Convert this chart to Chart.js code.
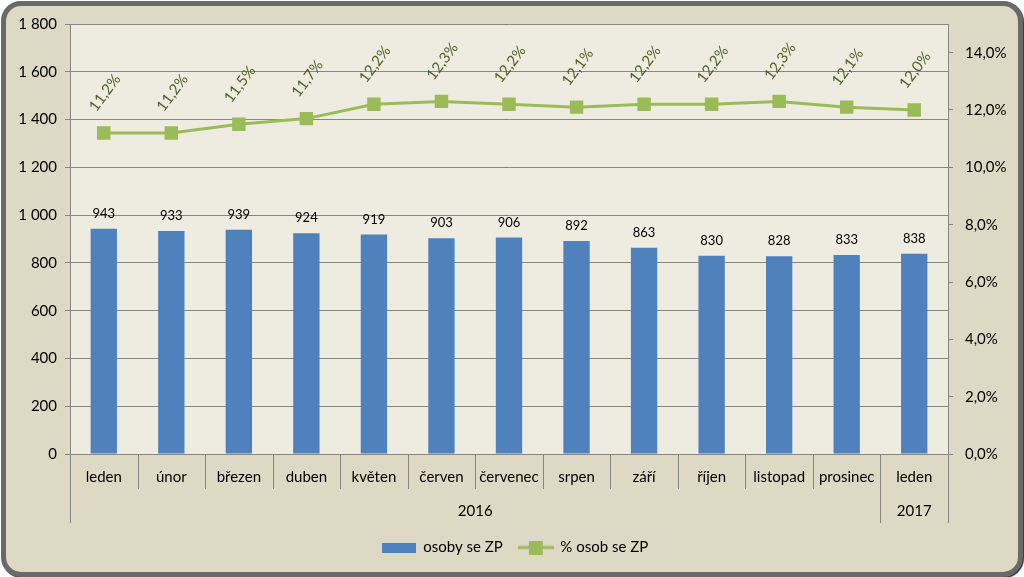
<!DOCTYPE html>
<html lang="cs">
<head>
<meta charset="UTF-8">
<title>Osoby se ZP</title>
<script src="https://cdn.jsdelivr.net/npm/chart.js"></script>
<style>
    body {
        margin: 0;
        width: 1024px;
        height: 577px;
        overflow: hidden;
        position: relative;
        background: #fff;
    }
    .frame {
        position: absolute;
        left: 1px;
        top: 1px;
        width: 1012px;
        height: 566px;
        border: 5px solid #6a6a6a;
        border-radius: 20px;
        background: #ddd9c4;
        box-shadow: 1px 1px 1px #2a2a2a;
    }
    #chart {
        position: absolute;
        left: 0;
        top: 0;
    }
</style>
</head>
<body>
<div class="frame"></div>
<canvas id="chart" width="1024" height="577"></canvas>
<script>
const months = ['leden', 'únor', 'březen', 'duben', 'květen', 'červen', 'červenec', 'srpen', 'září', 'říjen', 'listopad', 'prosinec', 'leden'];
const yearLabels = ['2016', '2017'];
const yearSpans = [12, 1];
const persons = [943, 933, 939, 924, 919, 903, 906, 892, 863, 830, 828, 833, 838];
const share = [11.2, 11.2, 11.5, 11.7, 12.2, 12.3, 12.2, 12.1, 12.2, 12.2, 12.3, 12.1, 12.0];

const FONT = 'Lato, "DejaVu Sans", sans-serif';
const GRID = '#868686';
const BLUE = '#4f81bd';
const GREEN = '#9bbb59';

function fmtThousands(v) {
    return String(v).replace(/\B(?=(\d{3})+(?!\d))/g, ' ');
}
function fmtPct(v) {
    return v.toFixed(1).replace('.', ',') + '%';
}

// legend swatches
function barSwatch() {
    const c = document.createElement('canvas');
    c.width = 34; c.height = 10;
    const g = c.getContext('2d');
    g.fillStyle = BLUE;
    g.fillRect(0, 0, 34, 10);
    return c;
}
function lineSwatch() {
    const c = document.createElement('canvas');
    c.width = 36; c.height = 14;
    const g = c.getContext('2d');
    g.fillStyle = GREEN;
    g.fillRect(0, 5.5, 36, 3);
    g.fillRect(11, 0, 14, 14);
    return c;
}

const plotBg = {
    id: 'plotBg',
    beforeDraw(chart) {
        const a = chart.chartArea, ctx = chart.ctx;
        ctx.save();
        ctx.fillStyle = '#eeece1';
        ctx.fillRect(a.left, a.top, a.right - a.left, a.bottom - a.top);
        ctx.restore();
    }
};

const extras = {
    id: 'extras',
    afterDraw(chart) {
        const ctx = chart.ctx, x = chart.scales.x, a = chart.chartArea;
        const w = x.getPixelForValue(1) - x.getPixelForValue(0);
        const start = x.getPixelForValue(0) - w / 2;
        ctx.save();
        ctx.strokeStyle = GRID;
        ctx.lineWidth = 1;
        // group boundaries
        const bounds = [0];
        yearSpans.forEach(s => bounds.push(bounds[bounds.length - 1] + s));
        for (let i = 0; i <= months.length; i++) {
            const bx = Math.round(start + i * w) + 0.5;
            const long = bounds.includes(i);
            ctx.beginPath();
            ctx.moveTo(bx, a.bottom);
            ctx.lineTo(bx, a.bottom + (long ? 69 : 35));
            ctx.stroke();
        }
        // year labels
        ctx.fillStyle = '#000';
        ctx.font = '15px ' + FONT;
        ctx.textAlign = 'center';
        ctx.textBaseline = 'middle';
        yearLabels.forEach((lab, k) => {
            const cx = start + (bounds[k] + bounds[k + 1]) / 2 * w;
            ctx.fillText(lab, cx, a.bottom + 57);
        });
        ctx.restore();
    },
    afterDatasetsDraw(chart) {
        const ctx = chart.ctx;
        ctx.save();
        // bar values
        ctx.fillStyle = '#000';
        ctx.font = '13px ' + FONT;
        ctx.textAlign = 'center';
        ctx.textBaseline = 'middle';
        chart.getDatasetMeta(0).data.forEach((el, i) => {
            ctx.fillText(persons[i], el.x, el.y - 15);
        });
        // line values, rotated
        ctx.fillStyle = '#4f6228';
        ctx.font = '15px ' + FONT;
        chart.getDatasetMeta(1).data.forEach((el, i) => {
            ctx.save();
            ctx.translate(el.x + 1, el.y - 40);
            ctx.rotate(-53 * Math.PI / 180);
            ctx.fillText(fmtPct(share[i]), 0, 0);
            ctx.restore();
        });
        ctx.restore();
    }
};

new Chart(document.getElementById('chart'), {
    type: 'bar',
    data: {
        labels: months,
        datasets: [{
            type: 'bar',
            label: 'osoby se ZP',
            data: persons,
            backgroundColor: BLUE,
            barPercentage: 0.39,
            categoryPercentage: 1,
            yAxisID: 'y'
        }, {
            type: 'line',
            label: '% osob se ZP',
            data: share,
            borderColor: GREEN,
            borderWidth: 3,
            backgroundColor: GREEN,
            pointStyle: 'rect',
            pointRadius: 9.5,
            pointBorderWidth: 0,
            tension: 0,
            yAxisID: 'y1'
        }]
    },
    options: {
        responsive: false,
        animation: false,
        layout: { padding: { left: 6, right: 0, top: 24, bottom: 12 } },
        plugins: {
            tooltip: { enabled: false },
            legend: {
                position: 'bottom',
                labels: {
                    usePointStyle: true,
                    pointStyleWidth: 34,
                    color: '#000',
                    font: { family: FONT, size: 15 },
                    padding: 16,
                    generateLabels(chart) {
                        return [
                            { text: 'osoby se ZP', pointStyle: barSwatch(), fillStyle: BLUE, strokeStyle: BLUE, lineWidth: 0, datasetIndex: 0, fontColor: '#000' },
                            { text: '% osob se ZP', pointStyle: lineSwatch(), fillStyle: GREEN, strokeStyle: GREEN, lineWidth: 0, datasetIndex: 1, fontColor: '#000' }
                        ];
                    }
                }
            }
        },
        scales: {
            x: {
                offset: true,
                grid: { display: false, offset: true },
                border: { display: false },
                ticks: {
                    color: '#000',
                    font: { family: FONT, size: 15 },
                    padding: 6,
                    maxRotation: 0,
                    autoSkip: false
                },
                afterFit(s) { s.height = 70; }
            },
            y: {
                position: 'left',
                min: 0,
                max: 1800,
                ticks: {
                    stepSize: 200,
                    color: '#000',
                    font: { family: FONT, size: 15 },
                    padding: 8,
                    callback: v => fmtThousands(v)
                },
                grid: { color: GRID, tickLength: 5 },
                border: { color: GRID },
                afterFit(s) { s.width = 64; }
            },
            y1: {
                position: 'right',
                min: 0,
                max: 15,
                ticks: {
                    stepSize: 2,
                    color: '#000',
                    font: { family: FONT, size: 15 },
                    padding: 12,
                    callback: v => fmtPct(v)
                },
                afterBuildTicks(s) { s.ticks = s.ticks.filter(t => t.value <= 14); },
                grid: { drawOnChartArea: false, color: GRID, tickLength: 5 },
                border: { color: GRID },
                afterFit(s) { s.width = 76; }
            }
        }
    },
    plugins: [plotBg, extras]
});
</script>
</body>
</html>
